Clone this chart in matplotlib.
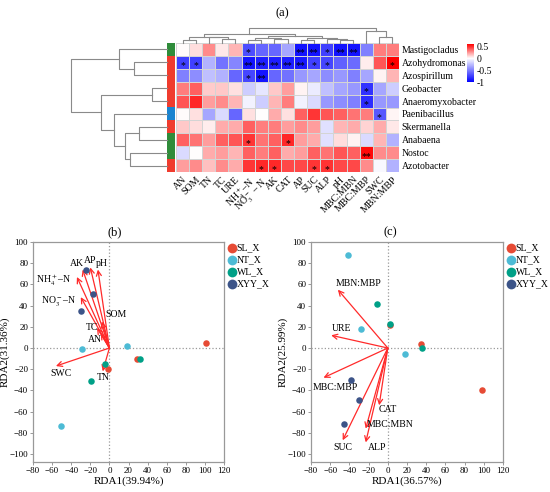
import matplotlib
matplotlib.use('Agg')
import matplotlib.pyplot as plt
import numpy as np
from matplotlib.colors import LinearSegmentedColormap, Normalize, to_rgb
from matplotlib.cm import ScalarMappable

plt.rcParams['font.family'] = ['Liberation Serif', 'DejaVu Serif']
plt.rcParams['mathtext.fontset'] = 'stix'

# ---------------- data ----------------
genera = ['Mastigocladus', 'Azohydromonas', 'Azospirillum', 'Geobacter', 'Anaeromyxobacter',
          'Paenibacillus', 'Skermanella', 'Anabaena', 'Nostoc', 'Azotobacter']
factors = ['AN', 'SOM', 'TN', 'TC', 'URE', 'NH$_4^+$–N', 'NO$_3^-$ – N', 'AK', 'CAT', 'AP', 'SUC',
           'ALP', 'pH', 'MBC:MBN', 'MBC:MBP', 'SWC', 'MBN:MBP']
row_group = ['g', 'r', 'r', 'r', 'r', 'b', 'r', 'g', 'g', 'r']

corr = [
    [0.01, 0.08, 0.27, 0.05, 0.17, -0.70, -0.60, -0.60, -0.35, -0.92, -0.92, -0.75, -0.92, -0.92, -0.50, 0.30, 0.30],
    [-0.75, -0.75, -0.30, -0.55, -0.48, -0.92, -0.88, -0.88, -0.88, -0.90, -0.75, -0.72, -0.62, -0.58, 0.04, 0.40, 0.60],
    [-0.50, -0.45, -0.25, -0.30, -0.60, -0.72, -0.92, -0.60, -0.55, -0.40, -0.35, -0.45, -0.40, -0.50, -0.35, 0.03, 0.17],
    [0.30, 0.37, 0.12, 0.13, 0.07, -0.20, -0.10, 0.13, 0.23, 0.03, -0.08, -0.25, -0.35, -0.40, -0.80, -0.35, -0.20],
    [0.40, 0.50, 0.23, 0.27, 0.17, -0.05, -0.20, 0.17, 0.30, -0.05, -0.15, -0.40, -0.45, -0.50, -0.82, -0.40, -0.40],
    [0.01, 0.07, -0.35, -0.15, -0.60, 0.07, 0.00, 0.20, 0.07, 0.37, 0.47, 0.40, 0.37, 0.33, 0.30, -0.65, 0.02],
    [0.13, 0.08, 0.04, 0.20, 0.20, 0.37, 0.30, 0.30, 0.23, 0.27, 0.23, -0.12, 0.17, 0.20, 0.10, 0.20, 0.05],
    [0.37, 0.33, 0.23, 0.37, 0.40, 0.47, 0.33, 0.37, 0.50, 0.23, 0.20, -0.12, 0.08, 0.03, -0.15, 0.17, -0.30],
    [-0.15, 0.00, 0.20, 0.23, 0.17, 0.37, 0.30, 0.37, 0.20, 0.23, 0.37, 0.33, 0.40, 0.37, 0.57, 0.27, 0.27],
    [0.23, 0.27, 0.15, 0.27, 0.20, 0.47, 0.50, 0.50, 0.43, 0.43, 0.47, 0.48, 0.43, 0.43, 0.27, -0.03, -0.30],
]
signif = [
    ['', '', '', '', '', '*', '', '', '', '**', '**', '*', '**', '**', '', '', ''],
    ['*', '*', '', '', '', '**', '**', '**', '**', '**', '*', '*', '', '', '', '', '*'],
    ['', '', '', '', '', '*', '**', '', '', '', '', '', '', '', '', '', ''],
    ['', '', '', '', '', '', '', '', '', '', '', '', '', '', '*', '', ''],
    ['', '', '', '', '', '', '', '', '', '', '', '', '', '', '*', '', ''],
    ['', '', '', '', '', '', '', '', '', '', '', '', '', '', '', '*', ''],
    ['', '', '', '', '', '', '', '', '', '', '', '', '', '', '', '', ''],
    ['', '', '', '', '', '*', '', '', '*', '', '', '', '', '', '', '', ''],
    ['', '', '', '', '', '', '', '', '', '', '', '', '', '', '**', '', ''],
    ['', '', '', '', '', '', '*', '*', '', '', '*', '*', '', '', '', '', ''],
]
# dendrograms: (height, left, right) or leaf index
row_tree = (96, (48, 0, (33, 1, 2)), (66, (15, 3, 4), (53, 5, (42, (28, 6, 7), (37, 8, 9)))))
col_tree = (46,
            (29,
             (19, (9, 0, 1), (17, 2, (12, 3, 4))),
             (22, (16, (9, 5, 6), (12, 7, 8)), (16, (9, 9, 10), (12, 11, (8, 12, 13))))),
            (37, 14, (19, 15, 16)))

groups = ['SL_X', 'NT_X', 'WL_X', 'XYY_X']
group_colors = ['#E64B35', '#4DBBD5', '#00A087', '#3C5488']

# panel b site scores
b_site_x = [[101, 29, -1], [18, -29, -51], [32, -5, -19], [-24, -17, -30]]
b_site_y = [[5, -10, -20], [2, -1, -74], [-10, -15, -31], [74, 51, 35]]
b_env = ['AK', 'AP', 'pH', 'NH$_4^+$–N', 'NO$_3^-$–N', 'SOM', 'TC', 'AN', 'SWC', 'TN']
b_env_x = [-28, -20, -12, -34, -30, -8, -13, -9, -56, -7]
b_env_y = [74, 76, 74, 67, 48, 25, 19, 14, -17, -22]
b_label_x = [-34, -20, -8, -58, -53, 7, -18, -15, -51, -6]
b_label_y = [80, 83, 80, 64, 44, 32, 19, 8, -24, -28]

# panel c site scores
c_site_x = [[2.4, 34.6, 98.6], [-41.3, -27.6, 18.2], [-11.5, 2.4, 35.3], [-38.8, -30, -45.5]]
c_site_y = [[21.3, 3.8, -39.2], [87.5, 17.9, -6], [41.7, 22.3, 0.3], [-30.4, -49, -72]]
c_env = ['MBN:MBP', 'URE', 'MBC:MBP', 'SUC', 'ALP', 'MBC:MBN', 'CAT']
c_env_x = [-52, -59, -67, -47, -23, -23, -9]
c_env_y = [55, 12, -28, -87, -89, -76, -54]
c_label_x = [-30, -48, -55, -47, -11, 2, 0]
c_label_y = [61, 18, -37, -94, -94, -72, -58]

# ---------------- figure ----------------
W, H = 550, 492
fig = plt.figure(figsize=(W / 100, H / 100), dpi=100)


def px_axes(x0, y0, x1, y1):
    return fig.add_axes([x0 / W, 1 - y1 / H, (x1 - x0) / W, (y1 - y0) / H])


vmin, vmax = -1.0, 0.6
cmap = LinearSegmentedColormap.from_list(
    'bwr2', [(0, '#0000FF'), ((0 - vmin) / (vmax - vmin), '#FFFFFF'), (1, '#FF0000')])
norm = Normalize(vmin=vmin, vmax=vmax)

nr, nc = len(genera), len(factors)
ax_h = px_axes(176, 43, 399, 172)
ax_h.pcolormesh(np.array(corr), cmap=cmap, norm=norm, edgecolors='#d4d4d4', linewidth=0.6)
ax_h.set_xlim(0, nc)
ax_h.set_ylim(nr, 0)
for s in ax_h.spines.values():
    s.set_visible(False)
ax_h.set_xticks(np.arange(nc) + 0.5)
ax_h.set_xticklabels(factors, rotation=45, ha='right', va='top', rotation_mode='anchor', fontsize=7.2)
ax_h.yaxis.tick_right()
ax_h.set_yticks(np.arange(nr) + 0.5)
ax_h.set_yticklabels(genera, fontsize=7)
ax_h.tick_params(length=0, pad=2)
for i in range(nr):
    for j in range(nc):
        if signif[i][j]:
            ax_h.text(j + 0.5, i + 0.78, signif[i][j], ha='center', va='center', fontsize=7)

# row annotation
gcol = {'g': '#2F8C3A', 'r': '#F03C2E', 'b': '#1A84D0'}
ax_r = px_axes(167, 43, 174, 172)
ax_r.imshow(np.array([[to_rgb(gcol[g])] for g in row_group]), aspect='auto',
            extent=(0, 1, nr, 0), interpolation='nearest')
ax_r.set_axis_off()

dcol = '#8a8a8a'


def draw_tree(ax, node, orient):
    if isinstance(node, int):
        return node + 0.5, 0
    h, l, r = node
    pl, hl = draw_tree(ax, l, orient)
    pr, hr = draw_tree(ax, r, orient)
    if orient == 'row':
        ax.plot([hl, h, h, hr], [pl, pl, pr, pr], color=dcol, lw=0.8, clip_on=False)
    else:
        ax.plot([pl, pl, pr, pr], [hl, h, h, hr], color=dcol, lw=0.8, clip_on=False)
    return (pl + pr) / 2, h


ax_rd = px_axes(71, 43, 167, 172)
draw_tree(ax_rd, row_tree, 'row')
ax_rd.set_xlim(row_tree[0], 0)
ax_rd.set_ylim(nr, 0)
ax_rd.set_axis_off()

ax_cd = px_axes(176, 28, 399, 43)
draw_tree(ax_cd, col_tree, 'col')
ax_cd.set_xlim(0, nc)
ax_cd.set_ylim(0, col_tree[0])
ax_cd.set_axis_off()

# colorbar
ax_cb = px_axes(467, 44, 474, 82)
cb = fig.colorbar(ScalarMappable(norm=norm, cmap=cmap), cax=ax_cb, ticks=[0.5, 0, -0.5, -1])
cb.outline.set_visible(False)
cb.ax.set_yticklabels(['0.5', '0', '-0.5', '-1'])
cb.ax.tick_params(labelsize=7, length=0, pad=2)

fig.text(282 / W, 1 - 13 / H, '(a)', ha='center', va='center', fontsize=9)


# ---------------- RDA panels ----------------
def rda_panel(ax, sx, sy, env, ex, ey, lx, ly, xlabel, ylabel):
    ax.axhline(0, color='#999999', ls=':', lw=0.9, zorder=0)
    ax.axvline(0, color='#999999', ls=':', lw=0.9, zorder=0)
    for k in range(len(env)):
        ax.annotate('', xy=(ex[k], ey[k]), xytext=(0, 0),
                    arrowprops=dict(arrowstyle='->', color='#FF2A2A', lw=0.9,
                                    mutation_scale=9, shrinkA=0, shrinkB=0))
        ax.text(lx[k], ly[k], env[k], fontsize=7, ha='center', va='center')
    for g in range(len(groups)):
        ax.scatter(sx[g], sy[g], s=22, color=group_colors[g], label=groups[g],
                   zorder=3, linewidths=0)
    ax.set_xlim(-80, 120)
    ax.set_ylim(-107.5, 100)
    ax.set_xticks(np.arange(-80, 121, 20))
    ax.set_yticks(np.arange(-100, 101, 20))
    ax.tick_params(labelsize=6.5, length=2.5, width=0.6, color='#888888', pad=1)
    for s in ax.spines.values():
        s.set_color('#999999')
        s.set_linewidth(0.9)
    ax.set_xlabel(xlabel, fontsize=8, labelpad=1)
    ax.set_ylabel(ylabel, fontsize=8, labelpad=0)
    leg = ax.legend(loc='upper left', bbox_to_anchor=(0.985, 1.02), frameon=False,
                    fontsize=7, handletextpad=0.0, labelspacing=0.3,
                    borderaxespad=0.2, markerscale=1.5, handlelength=1.0)
    return leg


ax_b = px_axes(33, 242, 224, 462)
rda_panel(ax_b, b_site_x, b_site_y, b_env, b_env_x, b_env_y, b_label_x, b_label_y,
          'RDA1(39.94%)', 'RDA2(31.36%)')
ax_c = px_axes(311, 242, 503, 462)
rda_panel(ax_c, c_site_x, c_site_y, c_env, c_env_x, c_env_y, c_label_x, c_label_y,
          'RDA1(36.57%)', 'RDA2(25.99%)')

fig.text(115 / W, 1 - 232 / H, '(b)', ha='center', va='center', fontsize=9)
fig.text(390 / W, 1 - 232 / H, '(c)', ha='center', va='center', fontsize=9)

fig.savefig('out.png', dpi=100)
